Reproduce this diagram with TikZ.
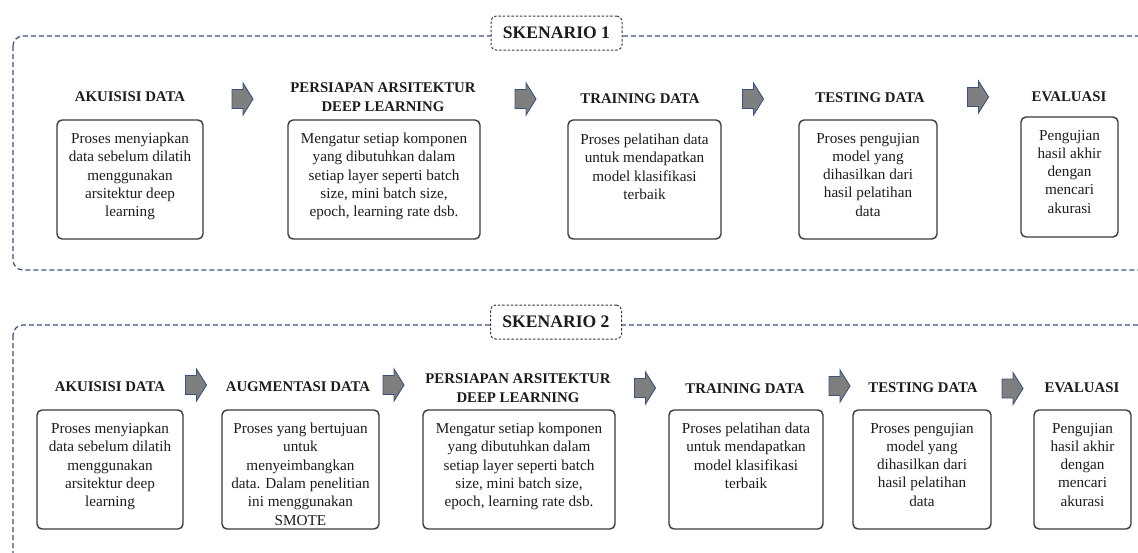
\documentclass[tikz,border=0pt]{standalone}
\usepackage{fontspec}
\setmainfont{Liberation Serif}
\definecolor{framec}{HTML}{3F5275}
\definecolor{inkc}{HTML}{1C1C1C}
\definecolor{edgec}{HTML}{3A3A3A}
\definecolor{arrowfill}{HTML}{7F7F7F}
\definecolor{arrowline}{HTML}{3B5279}

\begin{document}
\begin{tikzpicture}[x=1pt,y=-1pt,
  frame/.style={draw=framec, line width=1.2pt, dash pattern=on 5pt off 3pt, rounded corners=10pt},
  tag/.style={draw=edgec, fill=white, line width=1pt, dash pattern=on 2.5pt off 1.8pt,
    rounded corners=5pt, minimum width=131pt, minimum height=34pt, inner sep=0pt,
    font=\fontsize{17.6}{20}\selectfont\bfseries, text=inkc},
  card/.style={draw=edgec, line width=1.4pt, rounded corners=5pt, inner sep=0pt, minimum height=119pt},
  body/.style={align=center, inner sep=0pt, font=\fontsize{15.2}{18.3}\selectfont, text=inkc, anchor=north},
  head/.style={align=center, inner sep=0pt, font=\fontsize{14.8}{19}\selectfont\bfseries, text=inkc},
  flow/.style={draw=arrowline, fill=arrowfill, line width=0.9pt, line join=miter},
  blockarrow/.pic={\draw[flow] (-10.5,-9.5) -- (0.5,-9.5) -- (0.5,-16) -- (10.5,0)
    -- (0.5,16) -- (0.5,9.5) -- (-10.5,9.5) -- cycle;}
]
\useasboundingbox (0,0) rectangle (1138,552);

% dashed scenario frames, running off the right edge
\begin{scope}
  \clip (0,0) rectangle (1138,552);
  \draw[frame] (13,36) rectangle (1170,270);
  \draw[frame] (13,325) rectangle (1170,590);
\end{scope}

% ---------------- Scenario 1 ----------------
\node[tag] (s1) at (556.5,33) {SKENARIO 1};

\node[head] (h11) at (130,97) {AKUISISI DATA};
\node[head] (h12) at (383,97.5) {PERSIAPAN ARSITEKTUR\\DEEP LEARNING};
\node[head] (h13) at (640,99) {TRAINING DATA};
\node[head] (h14) at (870,98) {TESTING DATA};
\node[head] (h15) at (1069,97) {EVALUASI};

\node[card, minimum width=146pt] (b11) at (130,179.5) {};
\node[card, minimum width=192pt] (b12) at (384,179.5) {};
\node[card, minimum width=153pt] (b13) at (644.5,179.5) {};
\node[card, minimum width=138pt] (b14) at (868,179.5) {};
\node[card, minimum width=97pt, minimum height=120pt] (b15) at (1069.5,177) {};

\node[body] (t11) at ([yshift=-13.5pt]b11.north) {Proses menyiapkan\\data sebelum dilatih\\menggunakan\\arsitektur deep\\learning};
\node[body] (t12) at ([yshift=-13.5pt]b12.north) {Mengatur setiap komponen\\yang dibutuhkan dalam\\setiap layer seperti batch\\size, mini batch size,\\epoch, learning rate dsb.};
\node[body] (t13) at ([yshift=-14.5pt]b13.north) {Proses pelatihan data\\untuk mendapatkan\\model klasifikasi\\terbaik};
\node[body] (t14) at ([yshift=-13.5pt]b14.north) {Proses pengujian\\model yang\\dihasilkan dari\\hasil pelatihan\\data};
\node[body] (t15) at ([yshift=-13.5pt]b15.north) {Pengujian\\hasil akhir\\dengan\\mencari\\akurasi};

\pic at (242.5,99) {blockarrow};
\pic at (525.5,99) {blockarrow};
\pic at (753,99) {blockarrow};
\pic at (978,97) {blockarrow};

% ---------------- Scenario 2 ----------------
\node[tag] (s2) at (556,322) {SKENARIO 2};

\node[head] (h21) at (110,387) {AKUISISI DATA};
\node[head] (h22) at (298,387) {AUGMENTASI DATA};
\node[head] (h23) at (518,388) {PERSIAPAN ARSITEKTUR\\DEEP LEARNING};
\node[head] (h24) at (745,389) {TRAINING DATA};
\node[head] (h25) at (923,388) {TESTING DATA};
\node[head] (h26) at (1082,388) {EVALUASI};

\node[card, minimum width=146pt] (b21) at (110,469.5) {};
\node[card, minimum width=157pt] (b22) at (300.5,469.5) {};
\node[card, minimum width=192pt] (b23) at (519,469.5) {};
\node[card, minimum width=154pt] (b24) at (746,469.5) {};
\node[card, minimum width=138pt] (b25) at (922,469.5) {};
\node[card, minimum width=97pt] (b26) at (1082.5,469.5) {};

\node[body] (t21) at ([yshift=-13.5pt]b21.north) {Proses menyiapkan\\data sebelum dilatih\\menggunakan\\arsitektur deep\\learning};
\node[body] (t22) at ([yshift=-13.5pt]b22.north) {Proses yang bertujuan\\untuk\\menyeimbangkan\\data. Dalam penelitian\\ini menggunakan\\SMOTE};
\node[body] (t23) at ([yshift=-13.5pt]b23.north) {Mengatur setiap komponen\\yang dibutuhkan dalam\\setiap layer seperti batch\\size, mini batch size,\\epoch, learning rate dsb.};
\node[body] (t24) at ([yshift=-13.5pt]b24.north) {Proses pelatihan data\\untuk mendapatkan\\model klasifikasi\\terbaik};
\node[body] (t25) at ([yshift=-13.5pt]b25.north) {Proses pengujian\\model yang\\dihasilkan dari\\hasil pelatihan\\data};
\node[body] (t26) at ([yshift=-13.5pt]b26.north) {Pengujian\\hasil akhir\\dengan\\mencari\\akurasi};

\pic at (196,385) {blockarrow};
\pic at (393.5,385) {blockarrow};
\pic at (645,388) {blockarrow};
\pic at (839.5,386) {blockarrow};
\pic at (1012.5,388.5) {blockarrow};
\end{tikzpicture}
\end{document}
